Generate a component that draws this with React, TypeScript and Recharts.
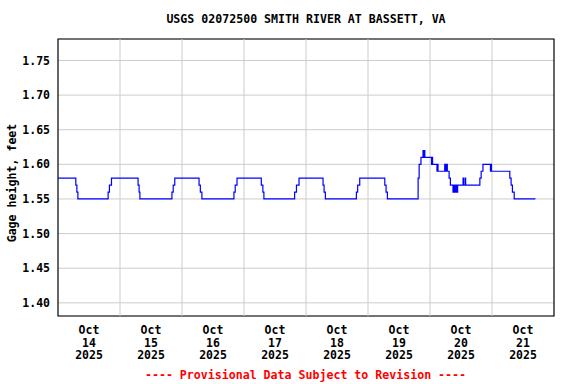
import { CartesianGrid, Line, LineChart, ReferenceArea, ReferenceLine, XAxis, YAxis } from "recharts"

// hours since Oct 14 2025 00:00, gage height (ft) at each change point
const hours = [
  0, 6.9, 7.3, 7.7, 19.4, 19.9, 20.7, 31.0, 31.4, 31.7,
  44.1, 44.6, 45.2, 54.6, 55.1, 55.7, 68.1, 68.6, 69.3,
  78.7, 79.3, 79.7, 91.6, 92.3, 93.3, 102.6, 103.0, 103.5,
  115.5, 116.0, 116.8, 126.5, 127.0, 127.5,
  139.4, 139.8, 140.5, 141.3, 141.5, 141.7, 142.0,
  144.6, 144.8, 145.0, 146.7, 146.9, 147.1,
  149.7, 149.9, 150.1, 150.3, 150.5, 150.7, 151.4, 151.9,
  152.9, 153.2, 153.4, 153.7, 153.9, 154.2, 154.4, 154.7,
  156.8, 157.0, 157.6, 157.8,
  163.3, 163.8, 164.5, 167.4, 167.6, 167.8,
  174.9, 175.4, 175.9, 176.6, 184.8,
]
const gage = [
  1.58, 1.57, 1.56, 1.55, 1.56, 1.57, 1.58, 1.57, 1.56, 1.55,
  1.56, 1.57, 1.58, 1.57, 1.56, 1.55, 1.56, 1.57, 1.58,
  1.57, 1.56, 1.55, 1.56, 1.57, 1.58, 1.57, 1.56, 1.55,
  1.56, 1.57, 1.58, 1.57, 1.56, 1.55,
  1.58, 1.6, 1.61, 1.62, 1.61, 1.62, 1.61,
  1.6, 1.61, 1.6, 1.59, 1.6, 1.59,
  1.6, 1.59, 1.6, 1.59, 1.6, 1.59, 1.58, 1.57,
  1.56, 1.57, 1.56, 1.57, 1.56, 1.57, 1.56, 1.57,
  1.58, 1.57, 1.58, 1.57,
  1.58, 1.59, 1.6, 1.59, 1.6, 1.59,
  1.58, 1.57, 1.56, 1.55, 1.55,
]

const dayLabels = ["14", "15", "16", "17", "18", "19", "20", "21"]
const noonTicks = [12, 36, 60, 84, 108, 132, 156, 180]
const midnights = [24, 48, 72, 96, 120, 144, 168]
const yTicks = [1.4, 1.45, 1.5, 1.55, 1.6, 1.65, 1.7, 1.75]
const yMin = 1.381
const yMax = 1.781

const data = hours.map((h, i) => ({ h, gage: gage[i] }))

const FONT = "'DejaVu Sans Mono', monospace"

function DayTick(props: any) {
  const { x, y, payload } = props
  const idx = noonTicks.indexOf(payload.value)
  return (
    <text x={x} y={y} textAnchor="middle" fontFamily={FONT} fontWeight="bold" fontSize={11.5} fill="#000">
      <tspan x={x} dy={10}>Oct</tspan>
      <tspan x={x} dy={12.7}>{dayLabels[idx]}</tspan>
      <tspan x={x} dy={12.7}>2025</tspan>
    </text>
  )
}

export default function App() {
  return (
    <div style={{ position: "absolute", left: 0, top: 0, width: 576, height: 384, background: "#fff" }}>
      <LineChart width={576} height={384} data={data} margin={{ top: 39, right: 22, bottom: 0, left: 0 }}>
        <CartesianGrid vertical={false} stroke="#cccccc" />
        {midnights.map((m) => (
          <ReferenceLine key={m} x={m} stroke="#cccccc" />
        ))}
        <XAxis
          dataKey="h"
          type="number"
          domain={[0, 192]}
          ticks={noonTicks}
          tick={<DayTick />}
          tickLine={false}
          axisLine={false}
          interval={0}
          height={68}
        />
        <YAxis
          type="number"
          domain={[yMin, yMax]}
          ticks={yTicks}
          width={58}
          tickLine={false}
          axisLine={false}
          interval={0}
          tickFormatter={(v: number) => v.toFixed(2)}
          tick={{ fill: "#000", fontSize: 11.5, fontFamily: FONT, fontWeight: "bold" }}
        />
        <Line
          type="stepAfter"
          dataKey="gage"
          stroke="#0000ff"
          strokeWidth={1.2}
          dot={false}
          isAnimationActive={false}
        />
        <ReferenceArea x1={0} x2={192} y1={yMin} y2={yMax} fill="none" stroke="#000" strokeWidth={1.2} ifOverflow="visible" />
      </LineChart>
      <div
        style={{
          position: "absolute", left: 0, width: 612, top: 12, textAlign: "center",
          fontFamily: FONT, fontWeight: "bold", fontSize: 11.6, color: "#000", lineHeight: "14px",
        }}
      >
        USGS 02072500 SMITH RIVER AT BASSETT, VA
      </div>
      <div
        style={{
          position: "absolute", left: 12, top: 183, width: 0, height: 0,
        }}
      >
        <div
          style={{
            position: "absolute", left: -100, top: -7, width: 200, textAlign: "center",
            transform: "rotate(-90deg)", fontFamily: FONT, fontWeight: "bold", fontSize: 11.6,
            lineHeight: "14px", whiteSpace: "nowrap", color: "#000",
          }}
        >
          Gage height, feet
        </div>
      </div>
      <div
        style={{
          position: "absolute", left: 0, width: 611, top: 368, textAlign: "center",
          fontFamily: FONT, fontWeight: "bold", fontSize: 11.6, color: "#ff0000", lineHeight: "14px",
        }}
      >
        ---- Provisional Data Subject to Revision ----
      </div>
    </div>
  )
}
